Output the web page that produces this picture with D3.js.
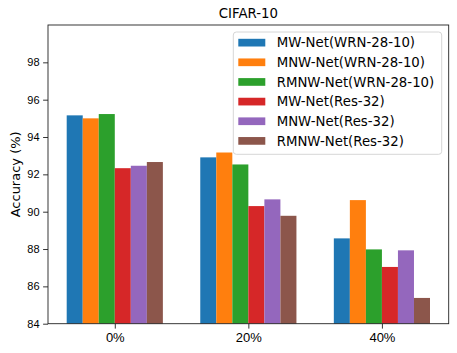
<!DOCTYPE html>
<html>
<head>
<meta charset="utf-8">
<script src="https://cdn.jsdelivr.net/npm/d3@7"></script>
<style>
  body { margin: 0; background: #fff; }
  svg { font-family: "DejaVu Sans", sans-serif; display: block; }
</style>
</head>
<body>
<div id="graph"></div>
<script>
// data
var categories = ['0%', '20%', '40%']
var seriesNames = [
	'MW-Net(WRN-28-10)',
	'MNW-Net(WRN-28-10)',
	'RMNW-Net(WRN-28-10)',
	'MW-Net(Res-32)',
	'MNW-Net(Res-32)',
	'RMNW-Net(Res-32)'
]
var mwWrn = [95.16, 92.91, 88.57]
var mnwWrn = [95.00, 93.17, 90.62]
var rmnwWrn = [95.23, 92.53, 87.98]
var mwRes = [92.33, 90.30, 87.04]
var mnwRes = [92.46, 90.66, 87.93]
var rmnwRes = [92.66, 89.78, 85.38]
var yTicks = [84, 86, 88, 90, 92, 94, 96, 98]
var colors = ['#1f77b4', '#ff7f0e', '#2ca02c', '#d62728', '#9467bd', '#8c564b']

var series = [mwWrn, mnwWrn, rmnwWrn, mwRes, mnwRes, rmnwRes]

var width = 457, height = 353
var plotL = 48, plotR = 448.7, plotT = 25, plotB = 323.7
var barW = 0.12

var svg = d3.select('#graph').append('svg')
	.attr('width', width)
	.attr('height', height)

var xScale = d3.scaleLinear()
	.domain([-0.5, categories.length - 0.5])
	.range([plotL, plotR])

var yScale = d3.scaleLinear()
	.domain([84, 100])
	.range([plotB, plotT])

// bars
series.forEach(function(vals, j) {
	svg.append('g').selectAll('rect')
	.data(vals)
	.enter().append('rect')
	.attr('x', function(d, i) { return xScale(i + (j - 3) * barW) })
	.attr('width', xScale(barW) - xScale(0))
	.attr('y', function(d) { return yScale(d) })
	.attr('height', function(d) { return yScale(84) - yScale(d) })
	.attr('fill', colors[j])
})

// axes
var yAxis = d3.axisLeft(yScale)
	.tickValues(yTicks)
	.tickSize(4.9)
	.tickPadding(3.5)
	.tickFormat(d3.format('d'))
var gy = svg.append('g')
	.attr('transform', 'translate(' + plotL + ',0)')
	.call(yAxis)
gy.select('.domain').remove()
gy.selectAll('text').style('font-size', '11px').attr('fill', '#000')
gy.selectAll('line').attr('stroke', '#000').attr('stroke-width', 0.8)

var xAxis = d3.axisBottom(xScale)
	.tickValues([0, 1, 2])
	.tickSize(4.9)
	.tickPadding(4)
	.tickFormat(function(d) { return categories[d] })
var gx = svg.append('g')
	.attr('transform', 'translate(0,' + plotB + ')')
	.call(xAxis)
gx.select('.domain').remove()
gx.selectAll('text').style('font-size', '13px').attr('fill', '#000')
gx.selectAll('line').attr('stroke', '#000').attr('stroke-width', 0.8)

// frame
svg.append('rect')
	.attr('x', plotL).attr('y', plotT)
	.attr('width', plotR - plotL).attr('height', plotB - plotT)
	.attr('fill', 'none')
	.attr('stroke', '#222')
	.attr('stroke-width', 0.9)

// title and y label
svg.append('text')
	.attr('x', (plotL + plotR) / 2)
	.attr('y', 17.5)
	.attr('text-anchor', 'middle')
	.style('font-size', '13.3px')
	.text('CIFAR-10')

svg.append('text')
	.attr('transform', 'translate(20,' + (plotT + plotB) / 2 + ') rotate(-90)')
	.attr('text-anchor', 'middle')
	.style('font-size', '13px')
	.text('Accuracy (%)')

// legend
var lg = svg.append('g')
lg.append('rect')
	.attr('x', 233.3).attr('y', 32)
	.attr('width', 208.4).attr('height', 122.3)
	.attr('rx', 3)
	.attr('fill', '#fff').attr('fill-opacity', 0.8)
	.attr('stroke', '#d6d6d6')
	.attr('stroke-width', 1)

var rows = lg.selectAll('g.item')
	.data(seriesNames)
	.enter().append('g')
	.attr('class', 'item')
	.attr('transform', function(d, i) { return 'translate(0,' + (42.7 + i * 19.65) + ')' })
rows.append('rect')
	.attr('x', 238.3).attr('y', -3.9)
	.attr('width', 27).attr('height', 7.7)
	.attr('fill', function(d, i) { return colors[i] })
rows.append('text')
	.attr('x', 276.7)
	.attr('y', 0)
	.attr('dy', '0.36em')
	.style('font-size', '13.3px')
	.text(function(d) { return d })
</script>
</body>
</html>
